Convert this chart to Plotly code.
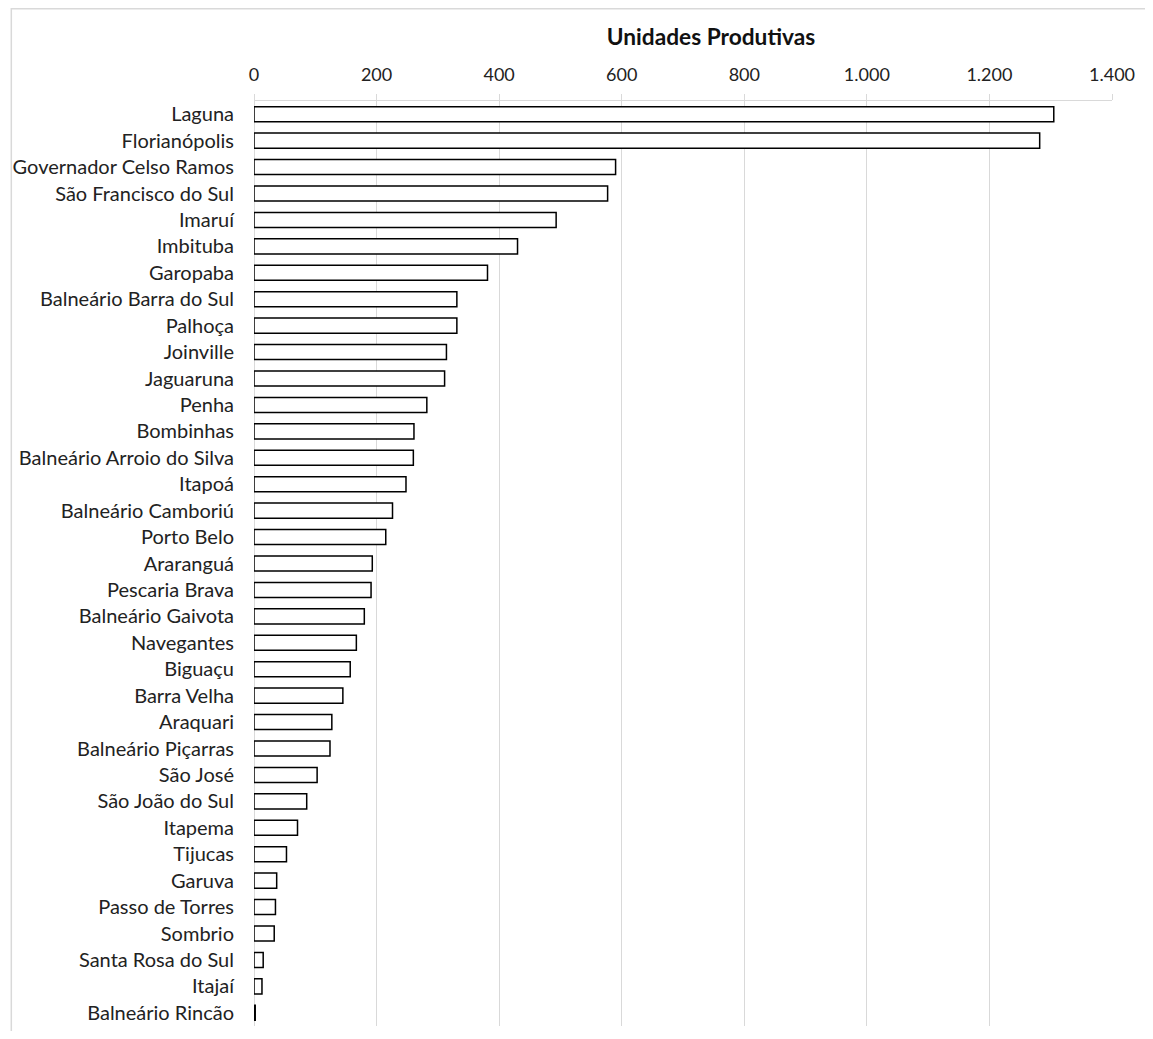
import plotly.graph_objects as go

municipios = ["Laguna", "Florianópolis", "Governador Celso Ramos", "São Francisco do Sul",
    "Imaruí", "Imbituba", "Garopaba", "Balneário Barra do Sul", "Palhoça", "Joinville",
    "Jaguaruna", "Penha", "Bombinhas", "Balneário Arroio do Silva", "Itapoá",
    "Balneário Camboriú", "Porto Belo", "Araranguá", "Pescaria Brava", "Balneário Gaivota",
    "Navegantes", "Biguaçu", "Barra Velha", "Araquari", "Balneário Piçarras", "São José",
    "São João do Sul", "Itapema", "Tijucas", "Garuva", "Passo de Torres", "Sombrio",
    "Santa Rosa do Sul", "Itajaí", "Balneário Rincão"]
unidades = [1305, 1282, 590, 577, 493, 430, 381, 331, 331, 314,
    311, 282, 261, 260, 248, 226, 215, 193, 191, 180,
    167, 157, 145, 127, 124, 103, 86, 71, 53, 37,
    35, 33, 15, 13, 2]
tick_vals = [0, 200, 400, 600, 800, 1000, 1200, 1400]

FONT = "Lato"
fig = go.Figure(go.Bar(
    x=unidades, y=municipios, orientation="h",
    marker=dict(color="white", line=dict(color="black", width=1.5)),
))
W, H = 1137, 1023
ml, mr, mt, mb = 244, 33, 93, 5
pw, ph = W - ml - mr, H - mt - mb
fig.update_layout(
    width=W, height=H, autosize=False,
    margin=dict(l=ml, r=mr, t=mt, b=mb),
    paper_bgcolor="white", plot_bgcolor="white",
    separators=",.",
    bargap=0.43,
    showlegend=False,
    font=dict(family=FONT, size=20, color="#222222"),
    title=dict(text="<b>Unidades Produtivas</b>", x=703 / W, xanchor="center",
               y=1 - 29 / H, yanchor="middle", font=dict(family=FONT, size=22.7, color="#111111")),
    xaxis=dict(side="top", range=[0, 1400], tickvals=tick_vals, tickformat=",d",
               showgrid=True, gridcolor="#d9d9d9", gridwidth=1, zeroline=True,
               zerolinecolor="#d9d9d9", zerolinewidth=1,
               showline=True, linecolor="#d9d9d9", linewidth=1,
               ticks="outside", ticklen=6, tickcolor="#d9d9d9", tickwidth=1,
               tickfont=dict(size=18, color="#222222"), ticklabelstandoff=6, fixedrange=True),
    yaxis=dict(autorange="reversed", showgrid=False, zeroline=False, showline=False,
               ticks="", ticklabelstandoff=19, tickfont=dict(size=20, color="#222222")),
    shapes=[dict(type="rect", xref="paper", yref="paper",
                 x0=(0.75 - ml) / pw, x1=(1160 - ml) / pw,
                 y0=1 - (1050 - mt) / ph, y1=1 + (mt - 0.75) / ph,
                 line=dict(color="#d9d9d9", width=1.5), fillcolor="rgba(0,0,0,0)", layer="below")],
)
fig.write_html("out.html")
